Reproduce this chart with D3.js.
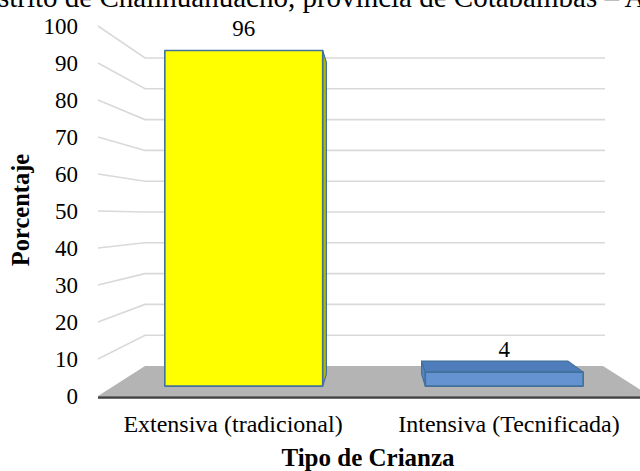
<!DOCTYPE html>
<html><head><meta charset="utf-8">
<script src="https://cdn.jsdelivr.net/npm/d3@7"></script>
<style>html,body{margin:0;padding:0;background:#fff;overflow:hidden}</style>
</head><body><svg id="c" width="640" height="471"></svg>
<script>
const categories = ["Extensiva (tradicional)", "Intensiva (Tecnificada)"];
const values = [96, 4];
const tickValues = [0,10,20,30,40,50,60,70,80,90,100];
const title = "Distrito de Challhuahuacho, provincia de Cotabambas – Apurímac";
const yTitle = "Porcentaje";
const xTitle = "Tipo de Crianza";
const faceColors = [
  {front:"#ffff00", top:"#e6e600", side:"#b8b800"},
  {front:"#6592d0", top:"#4f7dbb", side:"#5585c4"}
];

const svg = d3.select("#c");
const serif = "'Liberation Serif','Times New Roman',serif";

// 3D projection through scales: u = horizontal (0..1), v = value, t = depth (0 front, 1 back)
const xFront = d3.scaleLinear().domain([0,1]).range([98,650]);
const xBack  = d3.scaleLinear().domain([0,1]).range([145,603]);
const yFront = d3.scaleLinear().domain([0,100]).range([396,26]);
const yBack  = d3.scaleLinear().domain([0,100]).range([366,58]);
const band = d3.scaleBand().domain(categories).range([0,1]).paddingInner(0.394).paddingOuter(0.197);
const t0 = 0.33, t1 = 0.73;
function P(u,v,t){ return [xFront(u)*(1-t)+xBack(u)*t, yFront(v)*(1-t)+yBack(v)*t]; }
const line = d3.line();

// floor
const floor = [P(0,0,0),P(1,0,0),P(1,0,1),P(0,0,1)];
svg.append("path").attr("d", line(floor)+"Z").attr("fill","#b4b4b4");

// gridlines (left wall + back wall)
const g = svg.append("g");
tickValues.filter(d=>d>0).forEach(v=>{
  g.append("path")
   .attr("d", line([[xFront(0), yFront(v)], [xBack(0), yBack(v)], [605, yBack(v)]]))
   .attr("fill","none").attr("stroke","#d9d9d9").attr("stroke-width",1.6);
});

// axis base line
svg.append("line").attr("x1",xFront(0)).attr("x2",640).attr("y1",397.5).attr("y2",397.5)
  .attr("stroke","#404040").attr("stroke-width",2.5);

// bars
const stroke = "#41719c";
categories.forEach((c,i)=>{
  const u0 = band(c), u1 = band(c)+band.bandwidth(), v = values[i];
  const col = faceColors[i];
  const gb = svg.append("g");
  if (P(u0,0,t1)[0] < P(u0,0,t0)[0]) {
    gb.append("path").attr("d", line([P(u0,0,t0),P(u0,0,t1),P(u0,v,t1),P(u0,v,t0)])+"Z")
      .attr("fill",col.side).attr("stroke",stroke).attr("stroke-width",1.2).attr("stroke-linejoin","round");
  }
  if (P(u1,0,t1)[0] > P(u1,0,t0)[0]) {
    gb.append("path").attr("d", line([P(u1,0,t0),P(u1,0,t1),P(u1,v,t1),P(u1,v,t0)])+"Z")
      .attr("fill",col.side).attr("stroke",stroke).attr("stroke-width",1.2).attr("stroke-linejoin","round");
  }
  if (P(u0,v,t1)[1] < P(u0,v,t0)[1]) {
    gb.append("path").attr("d", line([P(u0,v,t0),P(u1,v,t0),P(u1,v,t1),P(u0,v,t1)])+"Z")
      .attr("fill",col.top).attr("stroke",stroke).attr("stroke-width",1.2).attr("stroke-linejoin","round");
  }
  gb.append("path").attr("d", line([P(u0,0,t0),P(u1,0,t0),P(u1,v,t0),P(u0,v,t0)])+"Z")
    .attr("fill",col.front).attr("stroke",stroke).attr("stroke-width",1.6).attr("stroke-linejoin","round");
  const topFront = P((u0+u1)/2, v, t0);
  svg.append("text").attr("x", topFront[0]).attr("y", topFront[1]-22.5)
    .attr("dy","0.33em").attr("text-anchor","middle")
    .attr("font-family",serif).attr("font-size",23).attr("fill","#000").text(v);
});

// y tick labels
tickValues.forEach(v=>{
  svg.append("text").attr("x",78).attr("y",yFront(v)).attr("dy","0.34em")
    .attr("text-anchor","end").attr("font-family",serif).attr("font-size",23).text(v);
});

// category labels
categories.forEach(c=>{
  const u = band(c)+band.bandwidth()/2;
  svg.append("text").attr("x", xFront(u)-3).attr("y",432).attr("text-anchor","middle")
    .attr("font-family",serif).attr("font-size",24).text(c);
});

// axis titles
svg.append("text").attr("x",368).attr("y",466).attr("text-anchor","middle")
  .attr("font-family",serif).attr("font-size",25).attr("font-weight","bold").text(xTitle);
svg.append("text").attr("transform","translate(29,210) rotate(-90)").attr("text-anchor","middle")
  .attr("font-family",serif).attr("font-size",24.5).attr("font-weight","bold").text(yTitle);

// title (cut off by top edge)
svg.append("text").attr("x",-31).attr("y",6.5).attr("text-anchor","start")
  .attr("font-family",serif).attr("font-size",29).text(title);
</script></body></html>
